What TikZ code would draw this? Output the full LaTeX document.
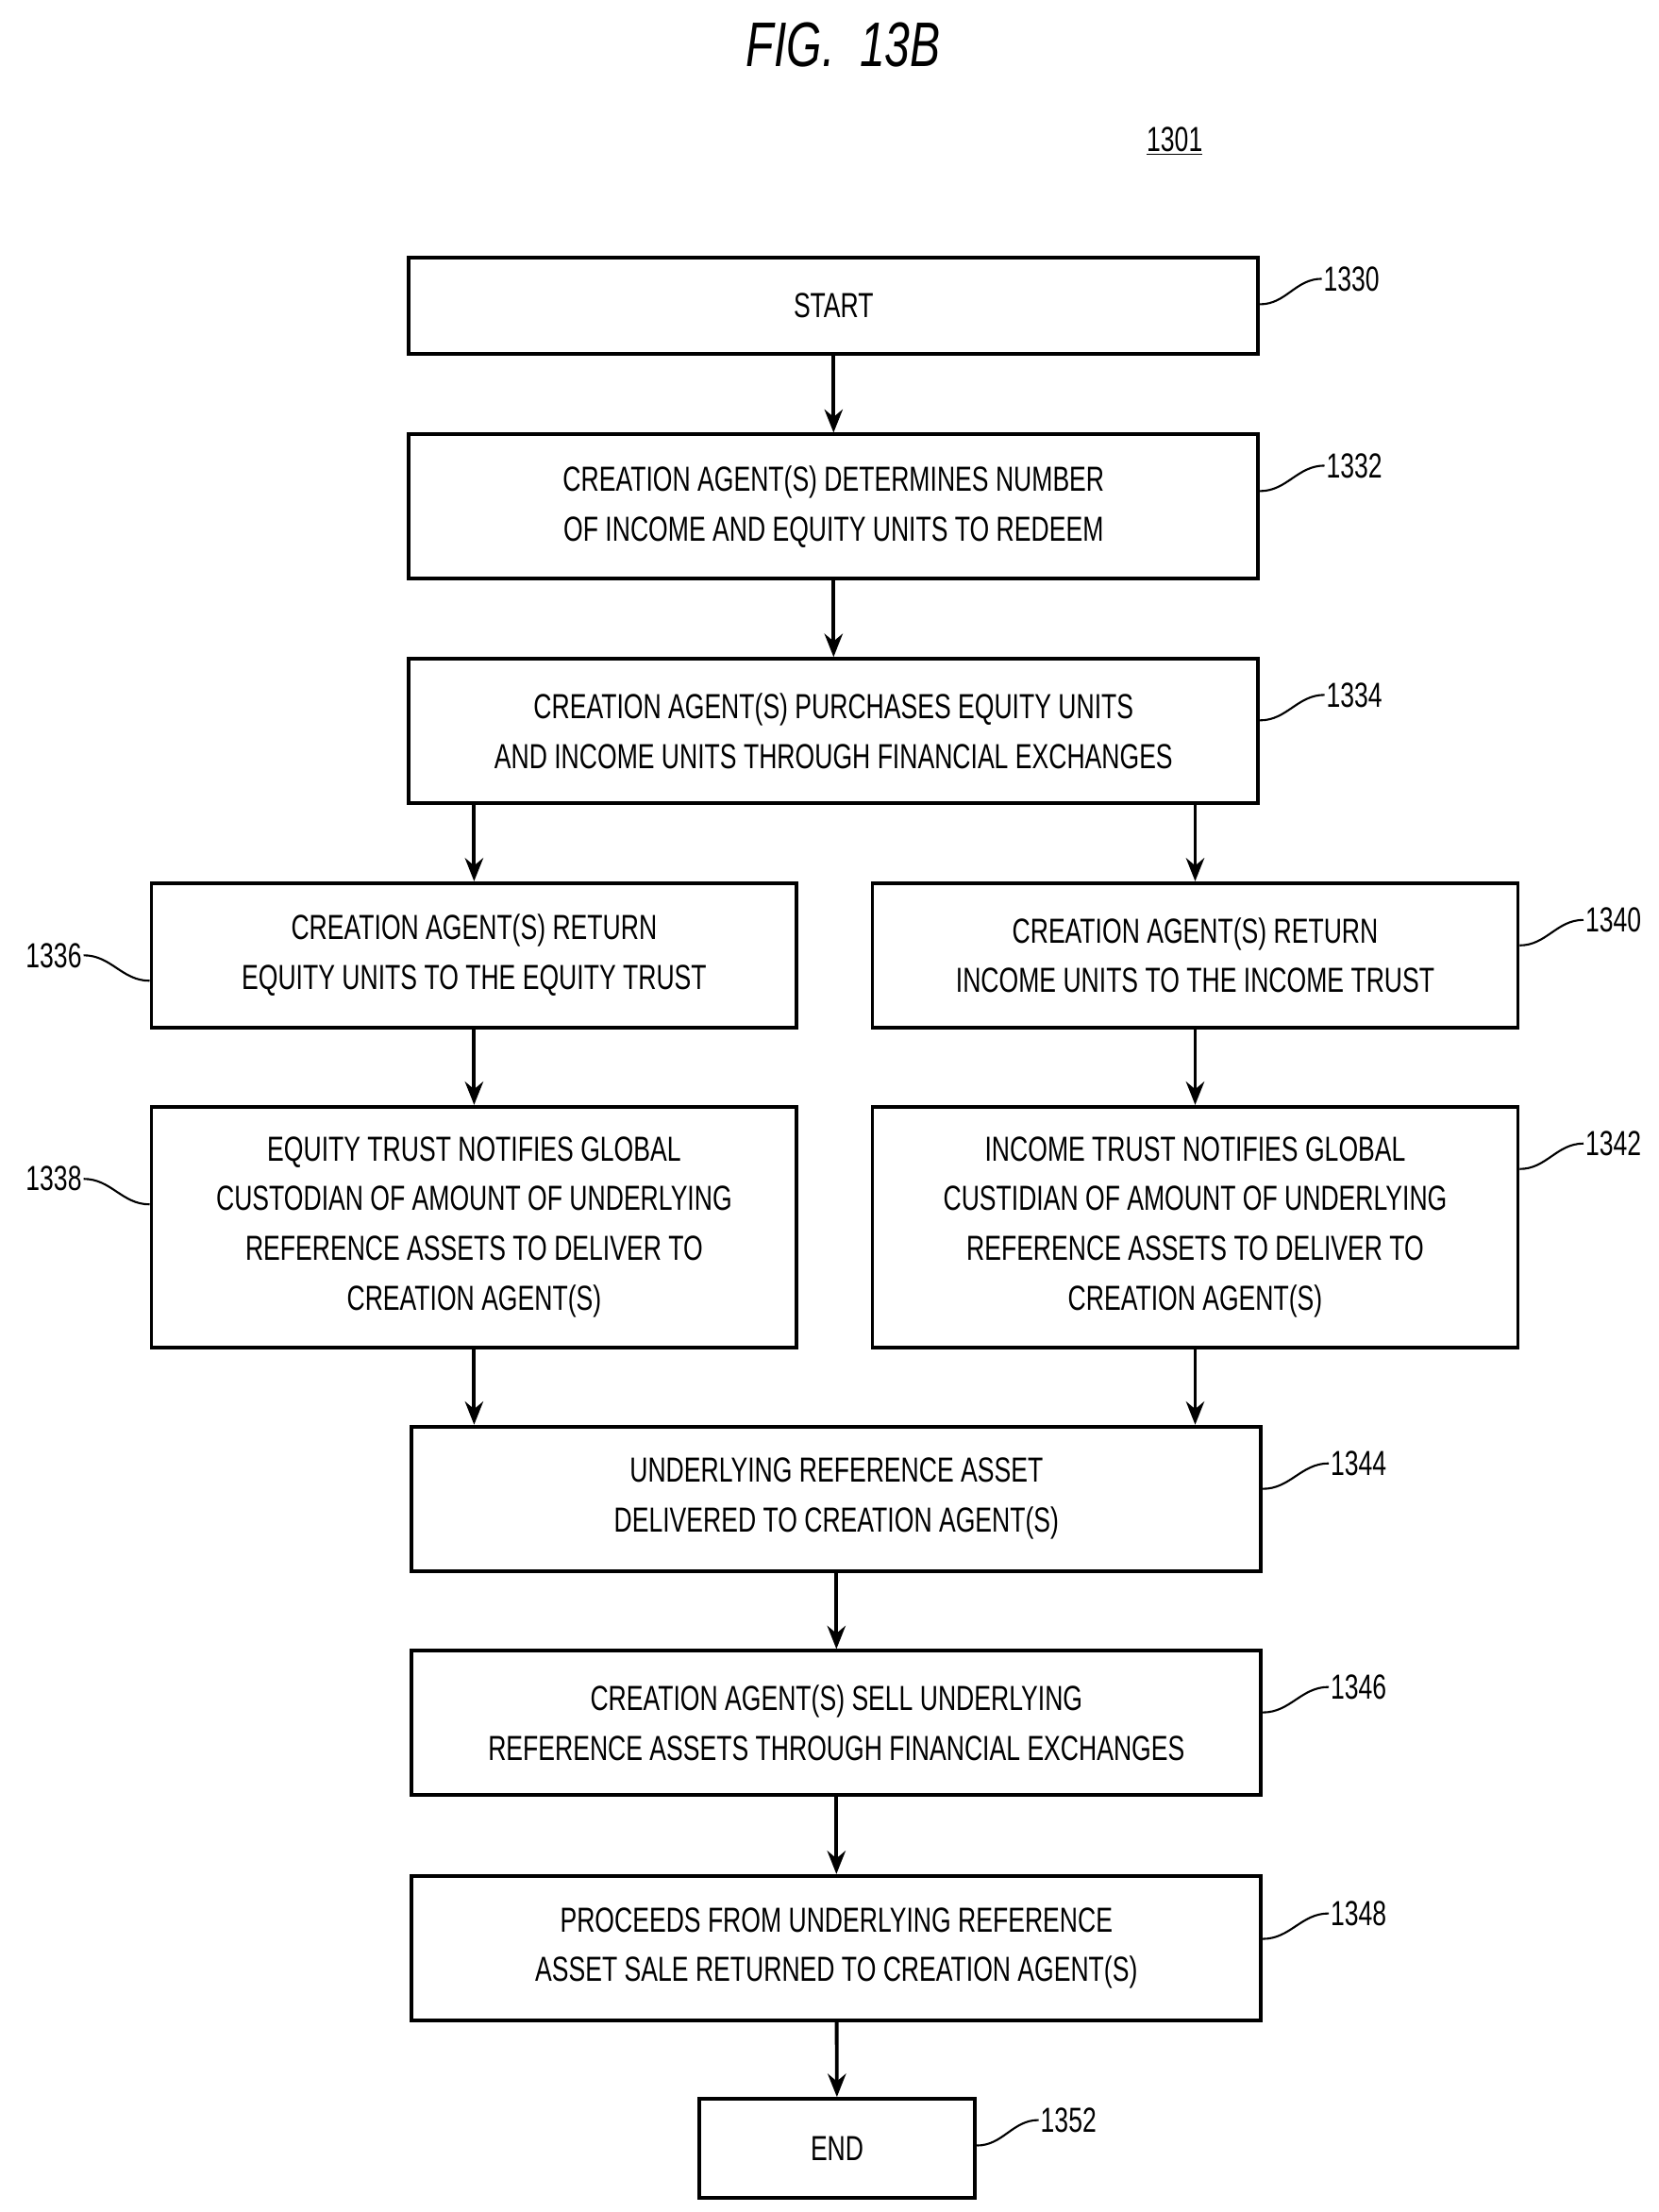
\documentclass[tikz,border=0pt]{standalone}
\usepackage{fontspec}
\setsansfont[FakeStretch=0.72]{Liberation Sans}
\usetikzlibrary{arrows.meta}
\tikzset{
  box/.style={draw, line width=2.2pt, minimum width=18cm, minimum height=3.06cm,
    align=center, font=\sffamily\fontsize{21}{30}\selectfont, inner sep=0pt},
  arr/.style={line width=2.2pt, -{Stealth[length=14pt,width=11pt]}},
  lbl/.style={font=\sffamily\fontsize{21}{24}\selectfont, inner sep=1pt},
  lead/.style={line width=1.2pt}
}
\begin{document}
\begin{tikzpicture}[x=0.03cm,y=-0.03cm]
\useasboundingbox (0,0) rectangle (1172,1563);

% title
\node (fig) at (596,32) {\sffamily\itshape\fontsize{38}{40}\selectfont FIG.\ \ 13B};
\node[lbl] (ref) at (830,100) {\underline{1301}};

% boxes
\node[box, minimum height=2.04cm] (start) at (589,216) {START};
\node[box] (b32) at (589,358) {CREATION AGENT(S) DETERMINES NUMBER\\OF INCOME AND EQUITY UNITS TO REDEEM};
\node[box] (b34) at (589,516.5) {CREATION AGENT(S) PURCHASES EQUITY UNITS\\AND INCOME UNITS THROUGH FINANCIAL EXCHANGES};
\node[box, minimum width=13.68cm] (b36) at (335,675) {CREATION AGENT(S) RETURN\\EQUITY UNITS TO THE EQUITY TRUST};
\node[box, minimum width=13.68cm] (b40) at (844.5,675) {CREATION AGENT(S) RETURN\\INCOME UNITS TO THE INCOME TRUST};
\node[box, minimum width=13.68cm, minimum height=5.1cm] (b38) at (335,867) {EQUITY TRUST NOTIFIES GLOBAL\\CUSTODIAN OF AMOUNT OF UNDERLYING\\REFERENCE ASSETS TO DELIVER TO\\CREATION AGENT(S)};
\node[box, minimum width=13.68cm, minimum height=5.1cm] (b42) at (844.5,867) {INCOME TRUST NOTIFIES GLOBAL\\CUSTIDIAN OF AMOUNT OF UNDERLYING\\REFERENCE ASSETS TO DELIVER TO\\CREATION AGENT(S)};
\node[box] (b44) at (591,1059) {UNDERLYING REFERENCE ASSET\\DELIVERED TO CREATION AGENT(S)};
\node[box] (b46) at (591,1217.5) {CREATION AGENT(S) SELL UNDERLYING\\REFERENCE ASSETS THROUGH FINANCIAL EXCHANGES};
\node[box] (b48) at (591,1376.5) {PROCEEDS FROM UNDERLYING REFERENCE\\ASSET SALE RETURNED TO CREATION AGENT(S)};
\node[box, minimum width=5.85cm, minimum height=2.1cm] (end) at (591.5,1518) {END};

% arrows
\draw[arr] (start) -- (b32);
\draw[arr] (b32) -- (b34);
\draw[arr] (b34.south -| b36.north) -- (b36.north);
\draw[arr] (b34.south -| b40.north) -- (b40.north);
\draw[arr] (b36) -- (b38);
\draw[arr] (b40) -- (b42);
\draw[arr] (b38.south) -- (b38.south |- b44.north);
\draw[arr] (b42.south) -- (b42.south |- b44.north);
\draw[arr] (b44) -- (b46);
\draw[arr] (b46) -- (b48);
\draw[arr] (b48) -- (end);

% reference numerals
\foreach \n/\b/\x/\y in {1330/start/955/197, 1332/b32/957/329, 1334/b34/957/491,
    1340/b40/1140/650, 1342/b42/1140/808, 1344/b44/960/1034,
    1346/b46/960/1192, 1348/b48/960/1352, 1352/end/755/1498} {
  \node[lbl] (n\n) at (\x,\y) {\n};
  \draw[lead] (\b.east |- 0,\y+18) to[out=0,in=180] (n\n.west);
}
\foreach \n/\b/\y in {1336/b36/675, 1338/b38/833} {
  \node[lbl] (n\n) at (38,\y) {\n};
  \draw[lead] (n\n.east) to[out=0,in=180] (\b.west |- 0,\y+18);
}
\end{tikzpicture}
\end{document}
